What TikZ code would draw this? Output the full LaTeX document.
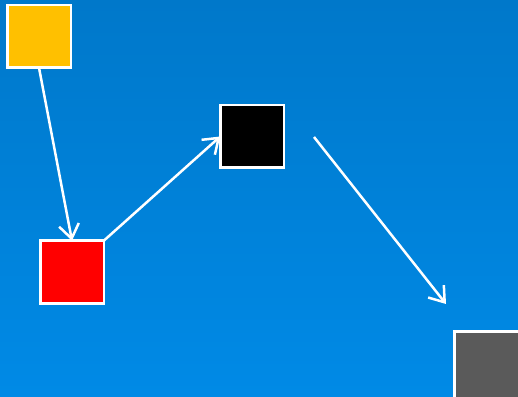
\documentclass[tikz,border=0pt]{standalone}
\usetikzlibrary{arrows.meta}
\definecolor{bgtop}{HTML}{0078CA}
\definecolor{bgbot}{HTML}{008AE6}
\definecolor{boxyellow}{HTML}{FFC000}
\definecolor{boxgray}{HTML}{5A5A5A}
\tikzset{
  sq/.style={draw=white, line width=2.5pt, minimum width=63.5pt, minimum height=62.5pt, inner sep=0pt, outer sep=0pt},
  conn/.style={draw=white, line width=2.5pt, -{Straight Barb[length=14pt,width=20pt,line width=2.5pt]}}
}
\begin{document}
\begin{tikzpicture}[x=1pt,y=1pt]
\useasboundingbox (0,0) rectangle (518,396);
\clip (0,0) rectangle (518,396);
\shade[top color=bgtop, bottom color=bgbot] (0,0) rectangle (518,396);
\node[sq, fill=yellow!0!boxyellow] (yellow) at (39,359.5) {};
\node[sq, fill=red] (red) at (72,124) {};
\node[sq, fill=black] (black) at (252,259.5) {};
\node[sq, fill=boxgray, anchor=north west, minimum width=80pt, minimum height=80pt] (gray) at (454.25,64.75) {};
\coordinate (s3) at (314,259);
\coordinate (e3) at (446,92);
\draw[conn] (yellow.south) -- (red.north);
\draw[conn] (red.north east) -- (black.west);
\draw[conn] (s3) -- (e3);
\end{tikzpicture}
\end{document}
